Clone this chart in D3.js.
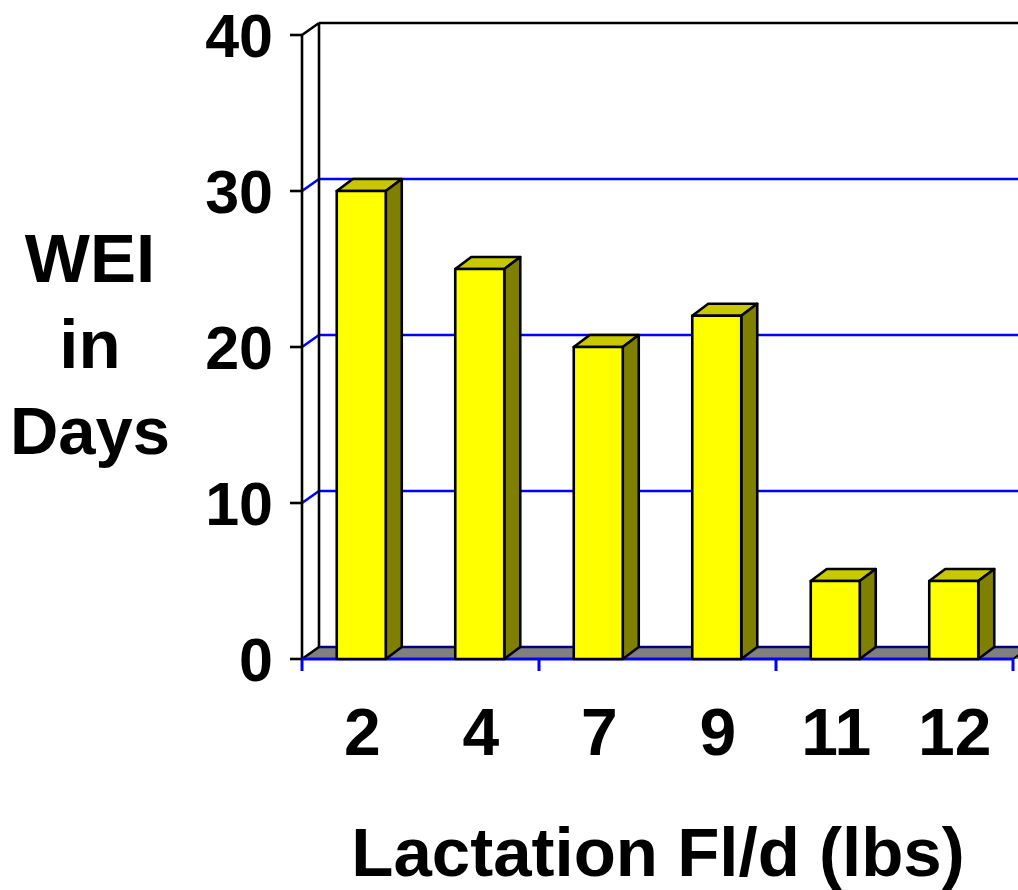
<!DOCTYPE html>
<html><head><meta charset="utf-8">
<script src="https://cdn.jsdelivr.net/npm/d3@7"></script>
<style>html,body{margin:0;padding:0;background:#fff;overflow:hidden}svg{display:block}text{font-family:"Liberation Sans",Arial,sans-serif;font-weight:bold;fill:#000}</style>
</head><body>
<script>
const categories = ["2","4","7","9","11","12"];
const values = [30,25,20,22,5,5];
const yTicks = [0,10,20,30,40];
const yTitleLines = ["WEI","in","Days"];
const xTitle = "Lactation Fl/d (lbs)";

const W = 1018, H = 890;
const svg = d3.select("body").append("svg").attr("width",W).attr("height",H);

const x0 = 302, x1 = 1013, yBase = 659, yTop = 35;
const DX = 17, DY = -12;      // wall depth
const BDX = 16, BDY = -12;    // bar depth
const LW = 2.6;

const x = d3.scaleBand().domain(categories).range([x0,x1]).paddingInner(0.5865).paddingOuter(0.5865/2);
const y = d3.scaleLinear().domain([0,40]).range([yBase,yTop]);

// gridlines / walls
yTicks.forEach(t => {
  const yf = y(t), yb = y(t)+DY;
  if (t === 0) return;
  const col = t === 40 ? "#000" : "#0000ff";
  svg.append("line").attr("x1",x0).attr("y1",yf).attr("x2",x0+DX).attr("y2",yb).attr("stroke",col).attr("stroke-width",LW);
  svg.append("line").attr("x1",x0+DX).attr("y1",yb).attr("x2",W+40).attr("y2",yb).attr("stroke",col).attr("stroke-width",LW);
});
// back wall left edge
svg.append("line").attr("x1",x0+DX).attr("y1",y(40)+DY).attr("x2",x0+DX).attr("y2",y(0)+DY).attr("stroke","#000").attr("stroke-width",LW);

// floor
svg.append("polygon")
  .attr("points",[[x0,yBase],[x0+DX,yBase+DY],[x1+DX+20,yBase+DY],[x1+20,yBase]].map(p=>p.join(",")).join(" "))
  .attr("fill","#808080");
svg.append("line").attr("x1",x0+DX).attr("y1",yBase+DY).attr("x2",W+40).attr("y2",yBase+DY).attr("stroke","#000080").attr("stroke-width",LW);
svg.append("line").attr("x1",x0).attr("y1",yBase).attr("x2",x0+DX).attr("y2",yBase+DY).attr("stroke","#000").attr("stroke-width",LW);
svg.append("line").attr("x1",x1).attr("y1",yBase).attr("x2",x1+DX).attr("y2",yBase+DY).attr("stroke","#000").attr("stroke-width",2);

// y axis
svg.append("line").attr("x1",x0).attr("y1",yTop).attr("x2",x0).attr("y2",yBase).attr("stroke","#000").attr("stroke-width",LW);
yTicks.forEach(t => {
  svg.append("line").attr("x1",x0-12).attr("y1",y(t)).attr("x2",x0).attr("y2",y(t)).attr("stroke","#000").attr("stroke-width",LW);
  svg.append("text").attr("x",273).attr("y",y(t)+22).attr("text-anchor","end").attr("font-size",61).text(t);
});

// x axis
svg.append("line").attr("x1",x0).attr("y1",yBase).attr("x2",x1).attr("y2",yBase).attr("stroke","#0000ff").attr("stroke-width",3);
const step = x.step();
for (let i = 0; i <= categories.length; i += 2) {
  const tx = x0 + i*step;
  svg.append("line").attr("x1",tx).attr("y1",yBase).attr("x2",tx).attr("y2",yBase+12).attr("stroke","#0000ff").attr("stroke-width",3);
}
categories.forEach(c => {
  svg.append("text").attr("x",x(c)+x.bandwidth()/2+1).attr("y",755).attr("text-anchor","middle").attr("font-size",66).text(c);
});

// bars
const bw = x.bandwidth();
categories.forEach((c,i) => {
  const bx = x(c), by = y(values[i]);
  const g = svg.append("g").attr("stroke","#000").attr("stroke-width",LW).attr("stroke-linejoin","round");
  g.append("polygon").attr("points",[[bx,by],[bx+BDX,by+BDY],[bx+bw+BDX,by+BDY],[bx+bw,by]].map(p=>p.join(",")).join(" ")).attr("fill","#c8c800");
  g.append("polygon").attr("points",[[bx+bw,by],[bx+bw+BDX,by+BDY],[bx+bw+BDX,yBase+BDY],[bx+bw,yBase]].map(p=>p.join(",")).join(" ")).attr("fill","#808000");
  g.append("rect").attr("x",bx).attr("y",by).attr("width",bw).attr("height",yBase-by).attr("fill","#ffff00");
});

// titles
yTitleLines.forEach((l,i) => {
  svg.append("text").attr("x",90).attr("y",282+i*86).attr("text-anchor","middle").attr("font-size",i===2?67:69).text(l);
});
svg.append("text").attr("x",658).attr("y",876).attr("text-anchor","middle").attr("font-size",69).text(xTitle);
</script>
</body></html>
